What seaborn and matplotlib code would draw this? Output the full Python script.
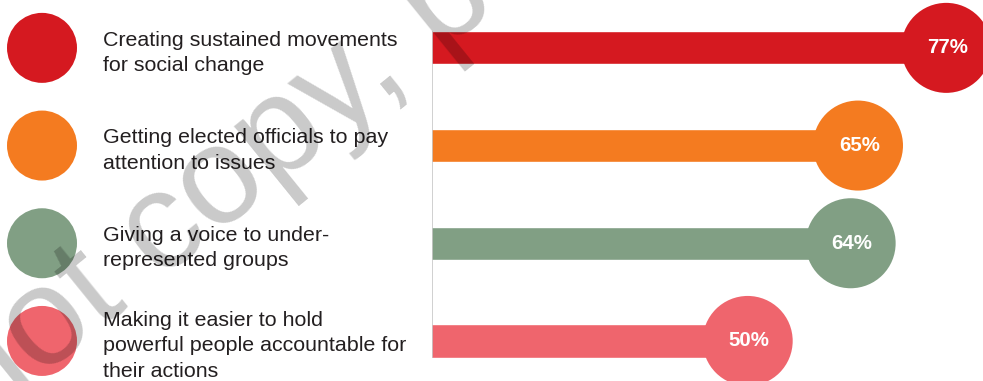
import matplotlib
matplotlib.use("Agg")
import matplotlib.pyplot as plt
import pandas as pd
import seaborn as sns

# Chart data
labels = [
    "Creating sustained movements\nfor social change",
    "Getting elected officials to pay\nattention to issues",
    "Giving a voice to under-\nrepresented groups",
    "Making it easier to hold\npowerful people accountable for\ntheir actions",
]
values = [77, 65, 64, 50]
colors = ["#D51920", "#F47B20", "#819F84", "#EF656D"]

sns.set_theme(style="white")
plt.rcParams["font.family"] = ["Liberation Sans", "DejaVu Sans"]

df = pd.DataFrame({"label": labels, "value": values, "pos": range(len(values))})

W, H = 983, 381
fig = plt.figure(figsize=(W / 100, H / 100), dpi=100)
ylim = (3.41, -0.49)

# Left panel: coloured dots with item text
ax_l = fig.add_axes([0, 0, 432 / W, 1])
sns.scatterplot(data=df, x=[0.0] * len(df), y="pos", hue="label",
                palette=colors, s=2540, legend=False, linewidth=0, ax=ax_l)
ax_l.set_xlim(-42 / 432, 1 - 42 / 432)
ax_l.set_ylim(*ylim)
for i, lab in enumerate(labels):
    ax_l.text(61 / 432, i + 0.05, lab, va="center", ha="left", fontsize=15.4,
              color="#231f20", linespacing=1.42)
ax_l.axis("off")

# Right panel: bars ending in value circles
ax_r = fig.add_axes([432 / W, 0, 1 - 432 / W, 1])
sns.barplot(data=df, x="value", y="pos", hue="label", palette=colors,
            orient="h", width=0.34, legend=False, ax=ax_r, saturation=1)
sns.scatterplot(data=df, x="value", y="pos", hue="label", palette=colors,
                s=4200, legend=False, linewidth=0, ax=ax_r, zorder=3)
x0 = 7.07
ax_r.set_xlim(x0, 82.0)
ax_r.set_ylim(*ylim)
for v, p in zip(values, df["pos"]):
    ax_r.text(v + 0.2, p, f"{v}%", color="white", fontweight="bold",
              fontsize=14.8, ha="center", va="center", zorder=4)
ax_r.vlines(x0 + 0.05, -0.17, 3.17, color="#c8c8c8", linewidth=1.2, zorder=5)
ax_r.axis("off")

# Watermark
fig.text(-0.1912, -0.480, "Do not copy, post, or distribute", fontsize=100,
         color="black", alpha=0.21, rotation=39, rotation_mode="anchor",
         ha="left", va="baseline", zorder=10)

fig.savefig("out.png", dpi=100)
